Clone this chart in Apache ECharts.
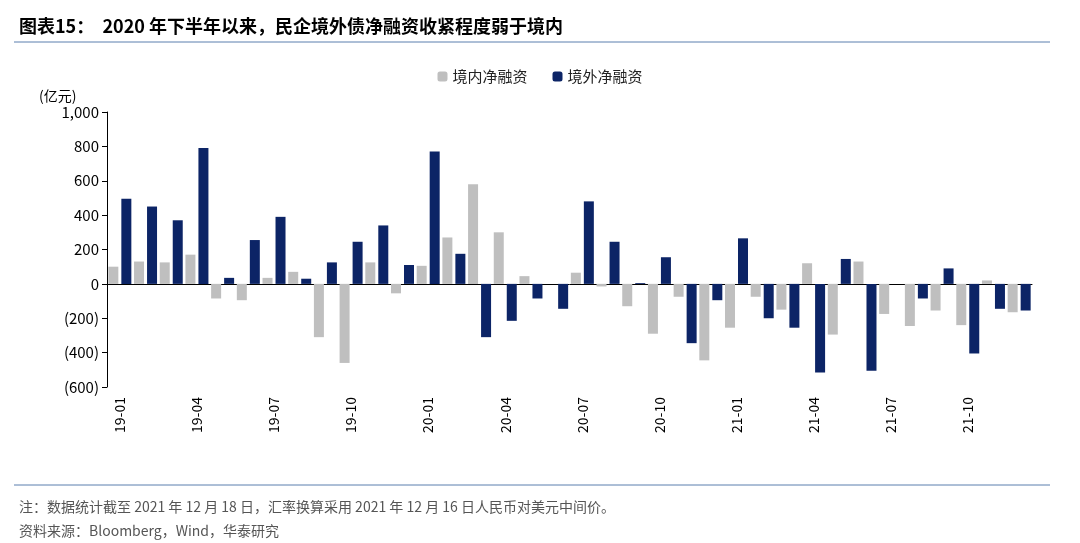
<!DOCTYPE html>
<html><head><meta charset="utf-8">
<script src="https://cdn.jsdelivr.net/npm/echarts@6/dist/echarts.min.js"></script>
<style>html,body{margin:0;padding:0;background:#fff}#c{width:1080px;height:543px}</style>
</head><body><div id="c"></div>
<script>
var months = [];
['19','20','21'].forEach(function (y) {
  for (var m = 1; m <= 12; m++) months.push(y + '-' + (m < 10 ? '0' + m : m));
});
var domestic = [100,130,125,170,-85,-95,35,70,-310,-460,125,-55,
  105,270,580,300,45,0,65,-15,-130,-290,-75,-445,
  -255,-75,-150,120,-295,130,-175,-245,-155,-240,20,-165];
var overseas = [495,450,370,790,35,255,390,30,125,245,340,110,
  770,175,-310,-215,-85,-145,480,245,5,155,-345,-95,
  265,-200,-255,-515,145,-505,0,-85,90,-405,-145,-155];

var font = '"Noto Sans CJK SC", "Liberation Sans", sans-serif';
var chart = echarts.init(document.getElementById('c'));
chart.setOption({
  animation: false,
  textStyle: { fontFamily: font },
  title: [
    { text: '图表15：  2020 年下半年以来，民企境外债净融资收紧程度弱于境内', left: 14, top: 12,
      textStyle: { fontSize: 18, fontWeight: 'bold', color: '#000', fontFamily: font } },
    { text: '(亿元)', left: 34, top: 84, textStyle: { fontSize: 14, fontWeight: 'normal', color: '#000' } },
    { text: '注：数据统计截至 2021 年 12 月 18 日，汇率换算采用 2021 年 12 月 16 日人民币对美元中间价。\n资料来源：Bloomberg，Wind，华泰研究',
      left: 14, top: 490, textStyle: { fontSize: 14, fontWeight: 'normal', color: '#555', lineHeight: 24 } }
  ],
  graphic: [
    { type: 'line', shape: { x1: 14, y1: 42, x2: 1050, y2: 42 }, style: { stroke: '#5b7fae', lineWidth: 1 } },
    { type: 'line', shape: { x1: 14, y1: 485, x2: 1050, y2: 485 }, style: { stroke: '#5b7fae', lineWidth: 1 } }
  ],
  legend: {
    top: 64, left: 'center', itemWidth: 10, itemHeight: 10, itemGap: 25,
    textStyle: { fontSize: 15, color: '#222' },
    data: ['境内净融资', '境外净融资']
  },
  grid: { left: 107, right: 48, top: 112, bottom: 156 },
  xAxis: [{
    type: 'category', data: months,
    axisLine: { onZero: true, lineStyle: { color: '#000' } },
    axisTick: { interval: 2, lineStyle: { color: '#000' } },
    axisLabel: { show: false }
  }, {
    type: 'category', data: months, position: 'bottom',
    axisLine: { show: false }, axisTick: { show: false },
    axisLabel: { interval: 2, rotate: 90, fontSize: 14, color: '#000', margin: 10 }
  }],
  yAxis: {
    type: 'value', min: -600, max: 1000, interval: 200,
    splitLine: { show: false },
    axisLine: { show: true, lineStyle: { color: '#000' } },
    axisTick: { show: true },
    axisLabel: { fontSize: 15, color: '#000', formatter: function (v) {
      var s = Math.abs(v).toLocaleString('en-US');
      return v < 0 ? '(' + s + ')' : s;
    } }
  },
  series: [
    { name: '境内净融资', type: 'bar', data: domestic, barWidth: 10, barGap: '30%',
      itemStyle: { color: '#bfbfbf' } },
    { name: '境外净融资', type: 'bar', data: overseas, barWidth: 10,
      itemStyle: { color: '#0c2466' } }
  ]
});
</script></body></html>
